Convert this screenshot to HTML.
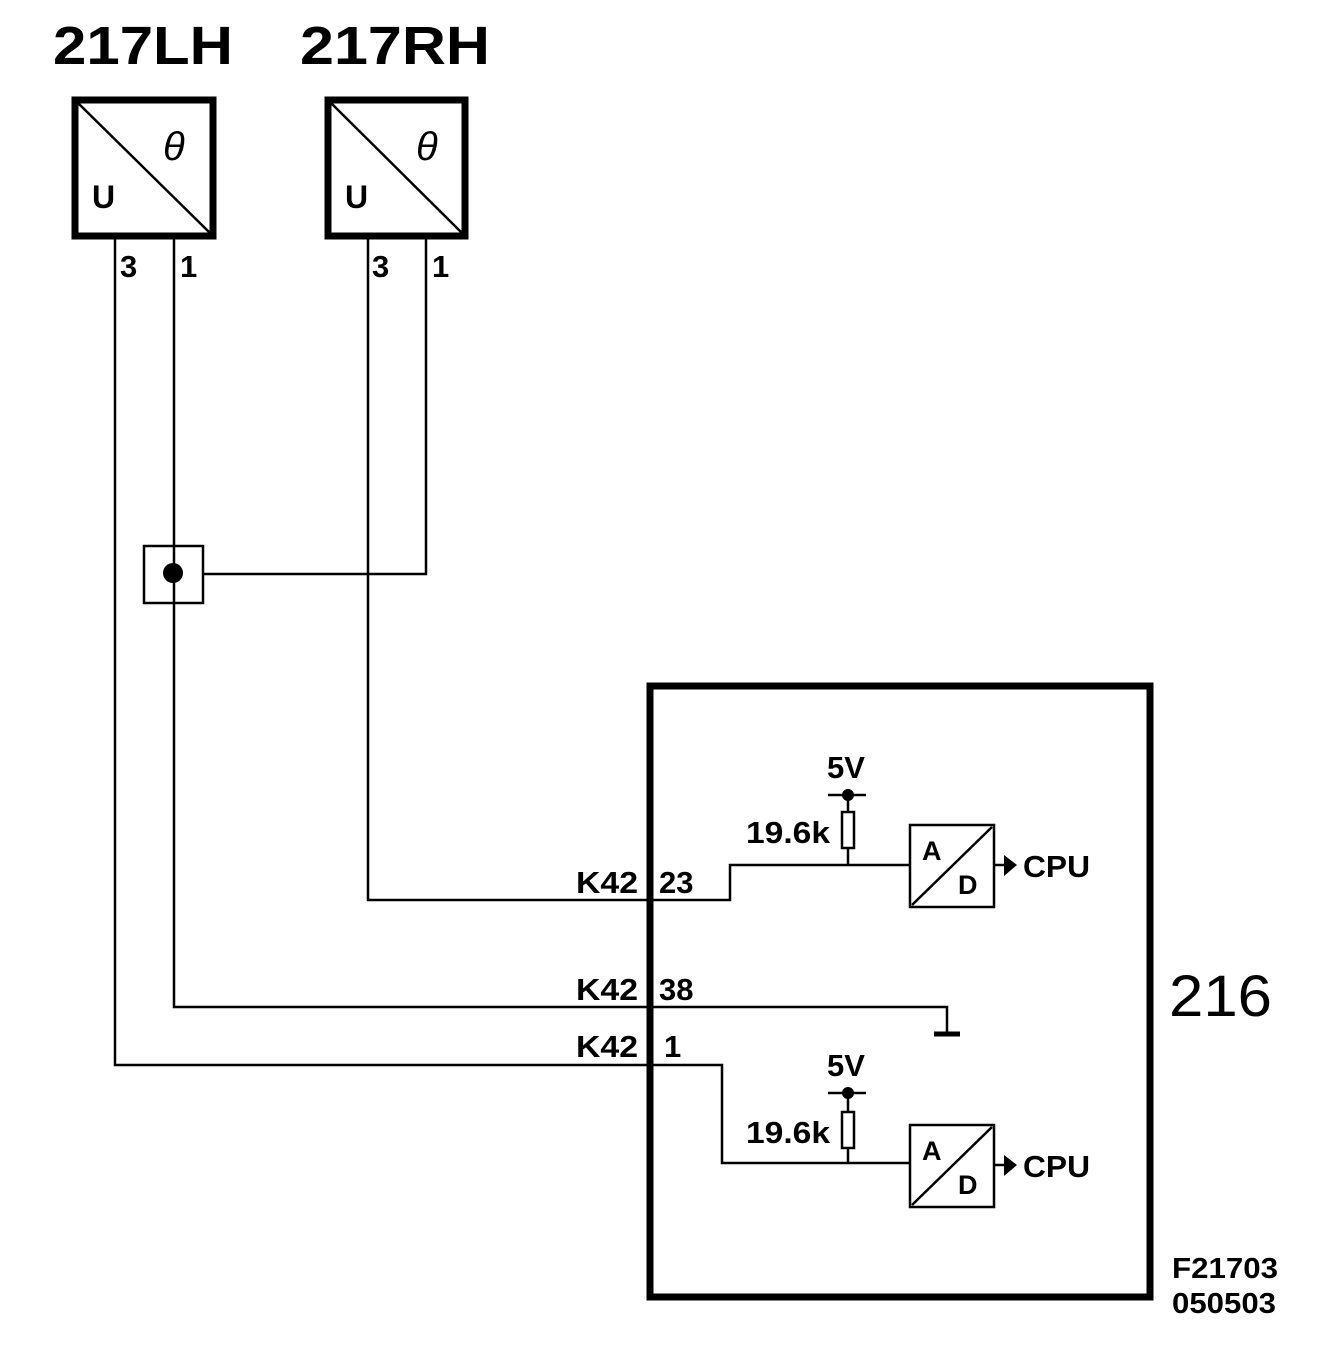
<!DOCTYPE html>
<html><head><style>body{margin:0;background:#fff}</style></head><body>
<svg width="1328" height="1342" viewBox="0 0 1328 1342" xmlns="http://www.w3.org/2000/svg" font-family="Liberation Sans, sans-serif" font-weight="bold">
<g fill="none" stroke="#000">
<rect x="75" y="100" width="138" height="136" stroke-width="7"/>
<line x1="78" y1="103" x2="210" y2="233" stroke-width="2.5"/>
<rect x="328" y="100" width="137" height="136" stroke-width="7"/>
<line x1="331" y1="103" x2="462" y2="233" stroke-width="2.5"/>
<g stroke-width="2.5">
<polyline points="115,239 115,1065 722,1065 722,1163 910,1163"/>
<polyline points="174,239 174,1007 947,1007 947,1033"/>
<polyline points="368,239 368,900 730,900 730,865 910,865"/>
<polyline points="426,239 426,574 203,574"/>
<rect x="144" y="546" width="59" height="57"/>
<line x1="848" y1="795" x2="848" y2="865"/>
<line x1="828" y1="795" x2="866" y2="795"/>
<rect x="842" y="812" width="12" height="36" fill="#fff"/>
<rect x="910" y="825" width="84" height="82"/>
<line x1="912" y1="905" x2="992" y2="827"/>
<line x1="994" y1="865" x2="1005" y2="865"/>
<line x1="848" y1="1093" x2="848" y2="1163"/>
<line x1="828" y1="1093" x2="866" y2="1093"/>
<rect x="842" y="1112" width="12" height="36" fill="#fff"/>
<rect x="910" y="1125" width="84" height="82"/>
<line x1="912" y1="1205" x2="992" y2="1127"/>
<line x1="994" y1="1165" x2="1005" y2="1165"/>
</g>
<line x1="934" y1="1034" x2="960" y2="1034" stroke-width="5"/>
<rect x="650" y="686" width="500" height="611" stroke-width="7"/>
</g>
<g fill="#000">
<circle cx="173" cy="573" r="10"/>
<circle cx="848" cy="795" r="6"/>
<circle cx="848" cy="1093" r="6"/>
<polygon points="1004,855 1017,865 1004,876"/>
<polygon points="1004,1155 1017,1165 1004,1176"/>
<text x="53" y="64" font-size="54" textLength="180" lengthAdjust="spacingAndGlyphs">217LH</text>
<text x="300" y="64" font-size="54" textLength="190" lengthAdjust="spacingAndGlyphs">217RH</text>
<text x="92" y="208" font-size="32">U</text>
<text x="345" y="208" font-size="32">U</text>
<text x="163" y="160" font-size="40" font-style="italic" font-weight="normal">θ</text>
<text x="416" y="160" font-size="40" font-style="italic" font-weight="normal">θ</text>
<text x="120" y="277" font-size="31">3</text>
<text x="180" y="277" font-size="31">1</text>
<text x="372" y="277" font-size="31">3</text>
<text x="432" y="277" font-size="31">1</text>
<g font-size="31">
<text x="576" y="893" textLength="62" lengthAdjust="spacingAndGlyphs">K42</text><text x="659" y="893">23</text>
<text x="576" y="1000" textLength="62" lengthAdjust="spacingAndGlyphs">K42</text><text x="659" y="1000">38</text>
<text x="576" y="1057" textLength="62" lengthAdjust="spacingAndGlyphs">K42</text><text x="664" y="1057">1</text>
<text x="827" y="778">5V</text><text x="827" y="1076">5V</text>
<text x="746" y="843" textLength="84" lengthAdjust="spacingAndGlyphs">19.6k</text><text x="746" y="1143" textLength="84" lengthAdjust="spacingAndGlyphs">19.6k</text>
<text x="922" y="860" font-size="27">A</text><text x="958" y="894" font-size="27">D</text>
<text x="922" y="1160" font-size="27">A</text><text x="958" y="1194" font-size="27">D</text>
<text x="1023" y="877" textLength="67" lengthAdjust="spacingAndGlyphs">CPU</text><text x="1023" y="1177" textLength="67" lengthAdjust="spacingAndGlyphs">CPU</text>
</g>
<text x="1169" y="1016" font-size="58" font-weight="normal" textLength="103" lengthAdjust="spacingAndGlyphs">216</text>
<text x="1172" y="1278" font-size="29" textLength="106" lengthAdjust="spacingAndGlyphs">F21703</text>
<text x="1172" y="1313" font-size="29" textLength="104" lengthAdjust="spacingAndGlyphs">050503</text>
</g>
</svg>
</body></html>
